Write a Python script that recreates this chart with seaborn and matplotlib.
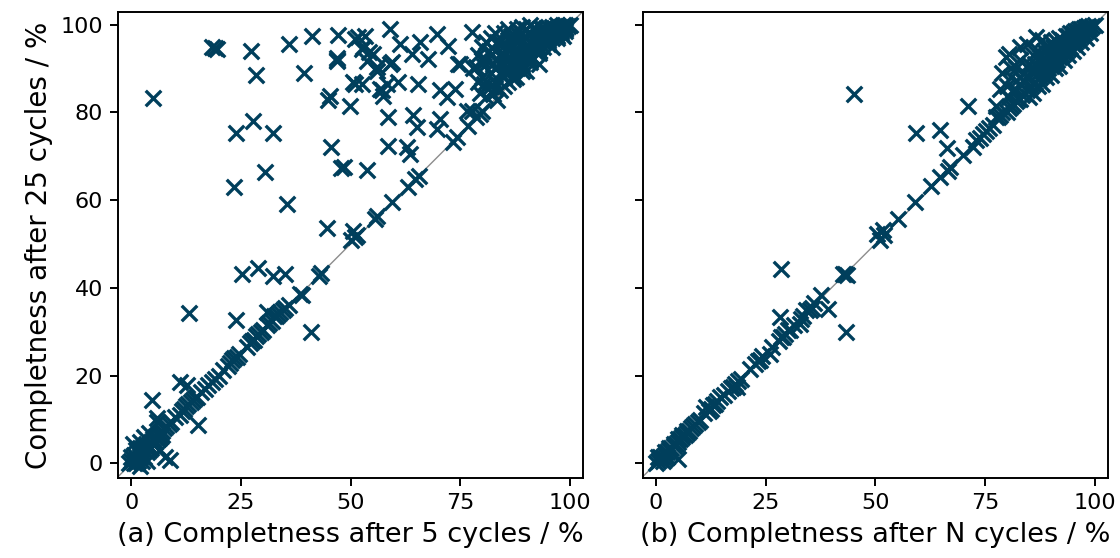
import numpy as np
import pandas as pd
import matplotlib
matplotlib.use("Agg")
import matplotlib.pyplot as plt
import seaborn as sns

# ---- panel (a): completeness after 5 cycles vs. after 25 cycles (%) ----
a_low = [(-0.5, 0), (0, 0.5), (0, 1.5), (0.5, 0), (0.5, 2), (1, 1), (1, 0), (1.5, 2.5),
         (1.5, 0.5), (2, 1.5), (2, 3.5), (2.5, 2.5), (2.5, 0.5), (3, 3), (3, 1.5), (3.5, 4),
         (3.5, 2.5), (4, 4), (4, 3), (4.5, 5), (4.5, 3.5), (5, 5.5), (5, 4.5), (5.5, 6),
         (5.5, 5), (6, 6.5), (6, 5.5), (6.5, 7), (6.5, 6), (7, 7.5), (7, 6.5), (7.5, 8),
         (8, 8.5), (8.5, 9), (9, 9.5), (0.4, 4.5), (1, 3), (2, 5), (3, 6), (4, 7),
         (5.8, 9.4), (5.8, 10.3), (4.7, 14.4), (8.9, 0.7), (7.7, 1.4), (6.5, 3), (3.5, 0.5),
         (2, -0.5)]
a_diag = [(10, 10.5), (11, 11), (11.5, 12), (12, 12.5), (12.5, 13), (13, 13.5), (13.5, 14),
          (14, 14.5), (14.5, 15), (15, 15.2), (16, 16.3), (16.8, 17), (17.5, 17.8), (18.3, 18.5),
          (19, 19.2), (20, 20), (21, 21.2), (22, 22.3), (22.5, 23), (23, 23.5), (23.5, 24),
          (24, 24.3), (24.5, 25), (26.3, 26.5), (27, 27.5), (27.5, 28), (28, 28.2), (28.5, 29),
          (29, 29.5), (29.5, 30), (30, 30.5), (31, 31.5), (31.5, 32), (32, 32.5), (32.5, 33.5),
          (33, 33.5), (33.5, 34), (34, 34.5), (34.5, 35), (35, 35.5), (36, 36), (38.5, 38.6),
          (42.9, 42.7), (43.2, 43.3), (50, 50.8), (51, 51.5), (51.5, 52), (50.5, 53),
          (55.6, 55.7), (56, 56.3), (59.4, 59.5), (63, 63), (64.7, 64.8), (65.5, 65.5),
          (73.4, 73.2), (74.2, 74.3), (76.8, 77), (78.7, 78.9), (77.6, 80.4), (79.9, 80.4),
          (81, 83.4), (82.5, 84.2), (83.3, 82.7)]
a_off = [(11.2, 18.5), (12.7, 17.8), (15.1, 8.7), (13.2, 34.2), (23.9, 32.7), (40.9, 29.9),
         (25.2, 43.2), (29, 44.6), (32.4, 42.8), (35.1, 43.2), (30.9, 34.5), (38.9, 38.3),
         (4.9, 83.3), (18.3, 94.8), (19.0, 94.6), (19.6, 94.5), (27.3, 93.9), (28.4, 88.4),
         (36.0, 95.6), (41.2, 97.3), (47.2, 97.7), (51.0, 96.7), (39.3, 89.0), (46.8, 91.9),
         (47.0, 92.3), (45.2, 83.8), (44.9, 82.7), (49.9, 81.5), (50.6, 86.9), (27.7, 78.1),
         (23.9, 75.2), (32.4, 75.3), (45.5, 72.2), (47.8, 67.4), (30.4, 66.5), (23.5, 62.9),
         (35.6, 59.1), (44.6, 53.7), (59.0, 99.0), (51.8, 97.1), (53.3, 97.5), (52.5, 94.4),
         (52.9, 94.8), (61.3, 95.6), (65.8, 96.0), (69.6, 97.9), (77.6, 98.2), (72.3, 95.2),
         (55.2, 93.3), (54.1, 93.8), (59.0, 91.0), (59.4, 91.4), (53.7, 91.8), (56.0, 89.5),
         (56.0, 90.3), (63.9, 93.3), (67.7, 92.2), (74.6, 91.0), (51.0, 86.5), (52.5, 86.5),
         (56.7, 85.4), (57.5, 83.8), (57.1, 85.0), (58.2, 86.5), (60.9, 86.9), (65.3, 86.5),
         (70.4, 85.0), (73.8, 85.4), (71.9, 83.4), (58.6, 78.9), (64.3, 79.3), (65.1, 76.6),
         (70.4, 78.5), (69.6, 76.2), (58.6, 72.4), (62.8, 72.0), (63.6, 70.5), (53.7, 66.9),
         (48.4, 67.5), (76.5, 80.4), (79.5, 79.7), (74.9, 91.0), (78.7, 90.3), (46.9, 91.8)]
a_top = [(78, 90), (79, 93), (80, 95), (80, 88), (81, 86), (81, 92), (82, 97), (82, 89),
         (83, 94), (83, 87), (84, 91), (84, 96), (84, 85), (85, 88), (85, 93), (85, 98),
         (86, 90), (86, 95), (86, 87), (87, 92), (87, 97), (87, 88), (88, 94), (88, 90),
         (88, 99), (89, 91), (89, 96), (89, 93), (90, 92), (90, 97), (90, 95), (90, 99),
         (91, 93), (91, 96), (91, 98), (92, 94), (92, 97), (92, 99), (93, 95), (93, 98),
         (93, 96), (94, 95), (94, 97), (94, 99), (95, 96), (95, 98), (95, 99.5), (96, 97),
         (96, 98.5), (96, 99.5), (97, 98), (97, 99), (97, 99.8), (98, 98.5), (98, 99.5),
         (99, 99.2), (99, 99.8), (99.5, 99.7), (100, 100), (84, 89), (86, 92), (88, 96),
         (90, 94), (92, 96), (94, 98), (96, 98), (98, 99), (83, 90), (87, 95), (89, 98),
         (91, 95), (93, 97), (95, 97), (85, 91), (87, 90), (82, 93), (80, 92), (79, 87),
         (81, 96), (83, 98), (86, 99), (88, 92), (90, 93), (92, 95), (94, 96), (85, 86),
         (87, 87.5), (89, 89.5), (91, 91.5), (93, 93.5), (95, 95.5), (97, 97.5), (99, 99.3),
         (85.5, 88.8), (87.8, 88), (90.1, 89.5), (93, 91), (96, 95), (98.5, 97.5), (99, 98.5),
         (80.5, 90.5), (81.5, 94), (82.5, 91), (83.5, 96), (84.5, 93.5), (85.5, 95.5),
         (86.5, 97.5), (87.5, 93), (88.5, 97.5), (89.5, 94.5), (90.5, 97.8), (91.5, 99.2),
         (92.5, 98), (93.5, 99.3), (94.5, 98.8), (95.5, 97.8), (96.5, 99), (97.5, 99.4),
         (98.5, 99.8), (86.5, 91), (88.5, 93.5), (90.5, 92.5), (92.5, 94.5), (94.5, 96.5),
         (96.5, 97.5), (98, 98), (84, 93), (86, 96.5), (88, 98), (89, 99.5), (91, 99.8),
         (79.5, 84.5), (80.5, 86.5), (82, 86), (83, 85.5), (85, 89.5), (87, 93.5),
         (89, 90.5), (91, 92), (93, 94), (95, 96.5), (97, 97), (99, 99)]

# ---- panel (b): completeness after N cycles vs. after 25 cycles (%) ----
b_low = [(0, 0), (0.5, 0.5), (1, 1), (1, 1.5), (1.5, 1.5), (2, 2), (2, 2.5), (2.5, 2.5),
         (3, 3), (3, 3.5), (3.5, 3.5), (4, 4), (4, 4.5), (4.5, 4.5), (5, 5), (5, 5.5),
         (5.5, 5.5), (6, 6), (6, 6.5), (6.5, 6.5), (7, 7), (7, 7.5), (7.5, 7.5), (8, 8),
         (8.5, 8.5), (9, 9), (9.5, 9.5), (10, 10), (0.5, 1.5), (1.5, 0.5), (2.5, 1.5),
         (5, 1)]
b_diag = [(11, 11.5), (11.5, 12.8), (12, 12), (12.5, 12.5), (13, 13.3), (13.5, 13.5),
          (14, 14.2), (14.6, 15.1), (15.5, 15.5), (16.5, 16.5), (17, 17.2), (17.5, 17.5),
          (18, 18), (18.4, 17.4), (18.8, 18.8), (19.3, 19.3), (21.4, 21.6), (22.5, 22.7),
          (23.3, 23.3), (23.7, 23.5), (24.2, 24.5), (26, 25), (26.5, 26.5), (28, 28),
          (28.5, 28.8), (29, 28.8), (29.5, 29.5), (30, 30.3), (30.5, 30.5), (31.5, 31.5),
          (32.8, 31.8), (33, 33), (33.5, 33.5), (34.3, 34.9), (35, 35), (35.5, 35.5),
          (37.7, 38.3), (36, 36.5), (42.7, 43.2), (43.2, 43.2), (43.5, 43), (50.3, 52.3),
          (51.7, 53.1), (51, 51), (52, 52), (55.1, 55.8), (59, 59.5), (62.8, 63.3),
          (64.7, 65.2), (66.6, 66.7), (67, 67.5), (70, 70.2), (72.3, 72.1), (73, 73.6),
          (73.8, 74.2), (74.5, 75), (75.2, 75.8), (76, 76.5), (76.8, 77.2), (77.6, 78.9),
          (78, 79), (78.5, 79.5), (79, 80)]
b_off = [(45.1, 84.1), (28.6, 44.3), (43.3, 29.9), (39.3, 35.2), (28.2, 33.4), (59.4, 75.2),
         (64.7, 76.0), (66.4, 71.9), (71.1, 81.5)]
b_top = [(80, 80), (80.5, 81), (81, 81.5), (81.5, 82), (82, 82.5), (82.5, 83), (83, 83),
         (83.5, 84), (84, 84.5), (84.5, 85), (85, 85.5), (85.5, 86), (86, 86.5), (86.5, 87),
         (87, 87.5), (87.5, 88), (88, 88.5), (88.5, 89), (89, 89.5), (89.5, 90), (90, 90.5),
         (90.5, 91), (91, 91.5), (91.5, 92), (92, 92.5), (92.5, 93), (93, 93.5), (93.5, 94),
         (94, 94.5), (94.5, 95), (95, 95.5), (95.5, 96), (96, 96.5), (96.5, 97), (97, 97.5),
         (97.5, 98), (98, 98.5), (98.5, 99), (99, 99.3), (99.5, 99.7), (100, 100),
         (80, 86), (81, 88), (82, 90), (83, 92), (84, 89), (85, 91), (86, 93), (87, 94),
         (88, 92), (89, 95), (90, 96), (91, 94), (92, 97), (93, 96), (94, 97.5), (95, 98),
         (96, 98.5), (97, 99), (98, 99.5), (82, 85), (84, 87), (86, 89), (88, 91), (90, 93),
         (92, 95), (94, 96), (96, 97.5), (83, 88), (85, 88), (87, 90), (89, 92), (91, 93),
         (93, 95), (95, 97), (97, 98.5), (79.9, 92.6), (82.9, 94.8), (86.7, 97.1),
         (80.6, 93.3), (78.4, 85.3), (77.6, 81.5), (84.5, 95.5), (88, 96.5), (81, 90),
         (79, 89), (86, 84.5), (88, 86.5), (90, 88.5), (92, 90.5), (94, 93), (96, 95),
         (98, 97), (85, 83.5), (87, 86), (89, 88), (91, 90), (93, 92), (95, 94), (97, 96),
         (99, 98), (80.5, 83.5), (81.5, 85), (83, 86.5), (84.5, 88), (85.5, 89.5),
         (86.5, 91), (87.5, 92.5), (88.5, 94), (89.5, 93.5), (90.5, 95), (91.5, 96),
         (92.5, 96.5), (93.5, 97.5), (94.5, 98), (95.5, 98.5), (96.5, 99), (97.5, 99.3),
         (98.5, 99.6), (87, 89), (89, 91), (91, 92.5), (93, 94.5), (95, 96.5), (97, 98)]

x_labels = ["(a) Completness after 5 cycles / %", "(b) Completness after N cycles / %"]
y_label = "Completness after 25 cycles / %"
x_ticks = [0, 25, 50, 75, 100]
y_ticks = [0, 20, 40, 60, 80, 100]

MARK = "#003f5c"

sns.set_style("ticks")
plt.rcParams["font.family"] = ["DejaVu Sans"]
plt.rcParams["text.color"] = "black"
plt.rcParams["axes.labelcolor"] = "black"
plt.rcParams["xtick.color"] = "black"
plt.rcParams["ytick.color"] = "black"

fig = plt.figure(figsize=(11.2, 5.58), dpi=100)
ax_a = fig.add_axes([0.1055, 0.1435, 0.415, 0.8345])
ax_b = fig.add_axes([0.574, 0.1435, 0.415, 0.8345], sharey=ax_a)


def to_frame(*groups):
    pts = [p for g in groups for p in g]
    return pd.DataFrame(pts, columns=["x", "y"])


panels = [(ax_a, to_frame(a_low, a_diag, a_off, a_top)),
          (ax_b, to_frame(b_low, b_diag, b_off, b_top))]

for i, (ax, df) in enumerate(panels):
    ax.axline((0, 0), slope=1, color="#8c8c8c", lw=1.0, zorder=1)
    sns.scatterplot(data=df, x="x", y="y", ax=ax, marker="x", s=125,
                    color=MARK, linewidth=2.4, zorder=2, legend=False)
    ax.set_xlim(-3, 103)
    ax.set_ylim(-3.3, 102.8)
    ax.set_xticks(x_ticks)
    ax.set_yticks(y_ticks)
    ax.set_xlabel(x_labels[i], fontsize=19.5, labelpad=6)
    ax.tick_params(axis="both", labelsize=16, length=6, width=1.4, pad=5,
                   colors="black")
    for sp in ax.spines.values():
        sp.set_visible(True)
        sp.set_linewidth(1.4)
        sp.set_color("black")

ax_a.set_ylabel(y_label, fontsize=20, labelpad=5)
ax_b.set_ylabel("")
ax_b.tick_params(axis="y", labelleft=False)

fig.savefig("out.png", dpi=100, facecolor="white")
